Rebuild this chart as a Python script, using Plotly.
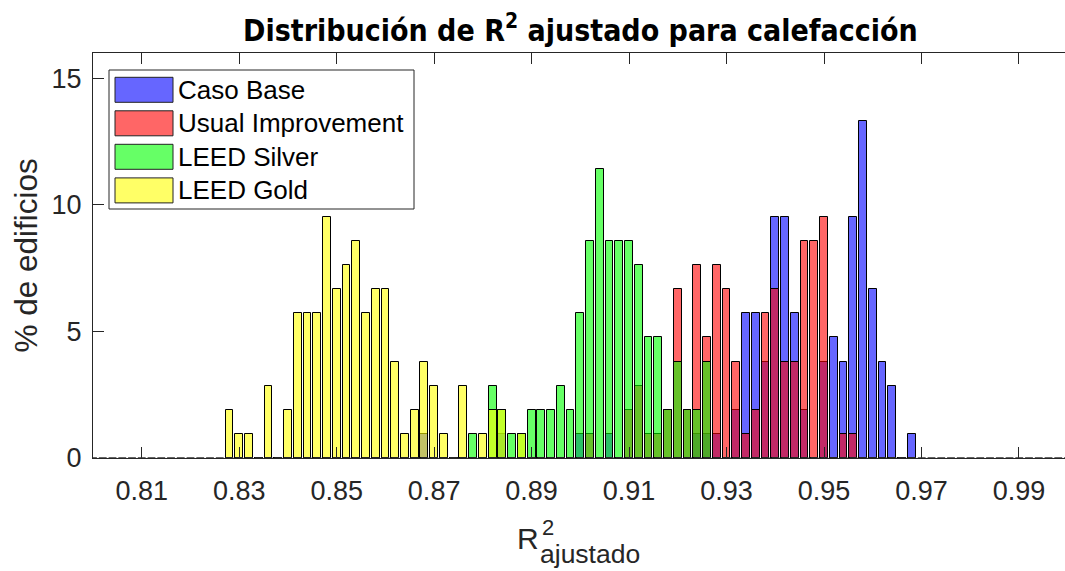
import plotly.graph_objects as go

# Histogram of adjusted R^2 for heating models, one series per scenario.
# Bins are 0.002 wide; values are building counts per bin (105 buildings each).
N_EDIFICIOS = 105
BIN_START = 0.828
BIN_WIDTH = 0.002
N_BINS = 71
bin_centers = [round(BIN_START + BIN_WIDTH * k, 3) for k in range(N_BINS)]

series_names = ["Caso Base", "Usual Improvement", "LEED Silver", "LEED Gold"]

caso_base = [
    0, 0, 0, 0, 0, 0, 0, 0, 0, 0,
    0, 0, 0, 0, 0, 0, 0, 0, 0, 0,
    1, 0, 0, 0, 0, 0, 0, 0, 1, 0,
    0, 0, 0, 0, 0, 0, 1, 0, 0, 1,
    0, 0, 0, 0, 0, 0, 0, 0, 1, 1,
    1, 0, 2, 6, 6, 4, 10, 10, 6, 2,
    0, 4, 5, 4, 10, 14, 7, 4, 3, 0,
    1,
]
usual_improvement = [
    0, 0, 0, 0, 0, 0, 0, 0, 0, 0,
    0, 0, 0, 0, 0, 0, 0, 0, 0, 0,
    0, 0, 0, 0, 0, 0, 0, 0, 0, 0,
    0, 0, 0, 0, 0, 0, 0, 1, 0, 0,
    0, 2, 3, 1, 1, 2, 7, 2, 8, 5,
    8, 7, 4, 1, 2, 6, 7, 4, 4, 9,
    9, 10, 0, 1, 1, 0, 0, 0, 0, 0,
    0,
]
leed_silver = [
    0, 0, 0, 0, 0, 0, 0, 0, 0, 0,
    0, 0, 0, 0, 0, 0, 0, 0, 0, 0,
    0, 0, 0, 0, 0, 1, 0, 3, 2, 1,
    1, 2, 2, 2, 3, 2, 6, 9, 12, 9,
    9, 9, 8, 5, 5, 2, 4, 2, 2, 4,
    0, 0, 0, 0, 0, 0, 0, 0, 0, 0,
    0, 0, 0, 0, 0, 0, 0, 0, 0, 0,
    0,
]
leed_gold = [
    2, 1, 1, 0, 3, 0, 2, 6, 6, 6,
    10, 7, 8, 9, 6, 7, 7, 4, 1, 2,
    4, 3, 1, 0, 3, 0, 1, 2, 2, 0,
    1, 0, 0, 0, 0, 0, 0, 0, 0, 0,
    0, 0, 0, 0, 0, 0, 0, 0, 0, 0,
    0, 0, 0, 0, 0, 0, 0, 0, 0, 0,
    0, 0, 0, 0, 0, 0, 0, 0, 0, 0,
    0,
]

x_ticks = [0.81, 0.83, 0.85, 0.87, 0.89, 0.91, 0.93, 0.95, 0.97, 0.99]
x_tick_labels = ["0.81", "0.83", "0.85", "0.87", "0.89", "0.91", "0.93", "0.95", "0.97", "0.99"]
y_ticks = [0, 5, 10, 15]
y_tick_labels = ["0", "5", "10", "15"]

series_counts = [caso_base, usual_improvement, leed_silver, leed_gold]
fill_colors = ["rgba(0,0,255,0.6)", "rgba(255,0,0,0.6)", "rgba(0,255,0,0.6)", "rgba(255,255,0,0.6)"]

FONT = "Liberation Sans, Arial, Helvetica, sans-serif"
TITLE_FONT = "Liberation Sans Narrow, Arial Narrow, DejaVu Sans Condensed, sans-serif"
AX = "#262626"

W, H = 1065, 571
ML, MT, MR, MB = 93, 53, 0, 113
PW, PH = W - ML - MR, H - MT - MB


def px(x):
    return (x - ML) / PW


def py(y):
    return (H - MB - y) / PH


fig = go.Figure()
for name, counts, color in zip(series_names, series_counts, fill_colors):
    pct = [100.0 * c / N_EDIFICIOS for c in counts]
    fig.add_trace(go.Bar(
        x=bin_centers, y=pct, name=name, width=BIN_WIDTH * 0.8,
        marker=dict(color=color, line=dict(color="black", width=1)),
        showlegend=False,
    ))

# baseline formed by the empty bins
fig.add_shape(type="line", xref="x", yref="y", x0=0.7992, x1=1.0, y0=0, y1=0,
              line=dict(color="#333333", width=1.5, dash="7.8px,1.95px"), layer="above")

# legend box
fig.add_shape(type="rect", xref="paper", yref="paper",
              x0=px(109), x1=px(414), y0=py(209), y1=py(70),
              line=dict(color=AX, width=1), fillcolor="white", layer="above")
row_centers = [89.8, 123.3, 156.8, 190.4]
for name, color, yc in zip(series_names, fill_colors, row_centers):
    fig.add_shape(type="rect", xref="paper", yref="paper",
                  x0=px(115), x1=px(173), y0=py(yc + 12.5), y1=py(yc - 12.5),
                  line=dict(color="#222222", width=1), fillcolor=color, layer="above")
    fig.add_annotation(text=name, xref="paper", yref="paper", x=px(176), y=py(yc),
                       xanchor="left", yanchor="middle", showarrow=False,
                       font=dict(family=FONT, size=26, color="black"))

# title
fig.add_annotation(text="<b>Distribución de R<sup>2</sup> ajustado para calefacción</b>",
                   xref="paper", yref="paper", x=px(580), y=py(29),
                   xanchor="center", yanchor="middle", showarrow=False,
                   font=dict(family=TITLE_FONT, size=30, color="black"))

# axis labels
fig.add_annotation(text="% de edificios", xref="paper", yref="paper", x=px(25), y=0.5,
                   xanchor="center", yanchor="middle", textangle=-90, showarrow=False,
                   font=dict(family=FONT, size=31.5, color=AX))
fig.add_annotation(text="R", xref="paper", yref="paper", x=px(541), y=py(538),
                   xanchor="right", yanchor="middle", showarrow=False,
                   font=dict(family=FONT, size=30, color=AX))
fig.add_annotation(text="2", xref="paper", yref="paper", x=px(540), y=py(527),
                   xanchor="left", yanchor="middle", showarrow=False,
                   font=dict(family=FONT, size=22, color=AX))
fig.add_annotation(text="ajustado", xref="paper", yref="paper", x=px(539), y=py(570),
                   xanchor="left", yanchor="bottom", showarrow=False, borderpad=0,
                   font=dict(family=FONT, size=26.5, color=AX))

fig.update_layout(
    width=W, height=H, margin=dict(l=ML, r=MR, t=MT, b=MB, pad=0),
    barmode="overlay", bargap=0,
    plot_bgcolor="white", paper_bgcolor="white",
    xaxis=dict(range=[0.8, 0.99945], tickvals=x_ticks, ticktext=x_tick_labels,
               ticks="inside", ticklen=11, tickwidth=1, tickcolor=AX,
               showline=True, linecolor=AX, linewidth=1, mirror="ticks",
               showgrid=False, zeroline=False, ticklabelstandoff=9,
               tickfont=dict(family=FONT, size=27, color=AX)),
    yaxis=dict(range=[0, 16], tickvals=y_ticks, ticktext=y_tick_labels,
               ticks="inside", ticklen=11, tickwidth=1, tickcolor=AX,
               showline=True, linecolor=AX, linewidth=1,
               showgrid=False, zeroline=False, ticklabelstandoff=5,
               tickfont=dict(family=FONT, size=27, color=AX)),
)

fig.write_html("out.html")
